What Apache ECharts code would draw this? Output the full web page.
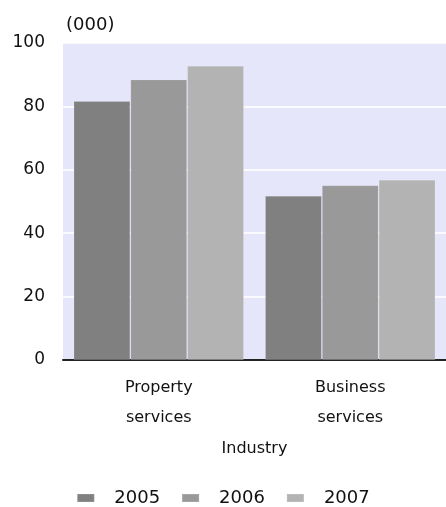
<!DOCTYPE html>
<html>
<head>
<meta charset="utf-8">
<script src="https://cdn.jsdelivr.net/npm/echarts@6/dist/echarts.min.js"></script>
<style>
  html, body { margin: 0; padding: 0; background: #ffffff; }
  #chart { width: 446px; height: 507px; }
</style>
</head>
<body>
<div id="chart"></div>
<script>
// Employment by industry, thousands
const categories = ['Property\nservices', 'Business\nservices'];
const years = ['2005', '2006', '2007'];
const values2005 = [81.7, 51.8];
const values2006 = [88.5, 55.1];
const values2007 = [92.8, 56.9];
const yTicks = [0, 20, 40, 60, 80, 100];

const seriesValues = [values2005, values2006, values2007];
const barColors = ['#808080', '#999999', '#b3b3b3'];
const font = 'DejaVu Sans, Verdana, sans-serif';

const chart = echarts.init(document.getElementById('chart'), null, { renderer: 'canvas' });

chart.setOption({
  animation: false,
  backgroundColor: '#ffffff',
  textStyle: { fontFamily: font, color: '#111' },
  title: {
    text: '(000)',
    left: 61,
    top: 11,
    textStyle: { fontFamily: font, fontSize: 18, fontWeight: 'normal', color: '#111' }
  },
  grid: {
    left: 63,
    right: 0,
    top: 43,
    bottom: 147,
    show: true,
    backgroundColor: '#e6e6fa',
    borderWidth: 0,
    containLabel: false
  },
  legend: {
    bottom: -5,
    left: 'center',
    itemWidth: 17,
    itemHeight: 8,
    itemGap: 21,
    icon: 'rect',
    data: years,
    textStyle: { fontFamily: font, fontSize: 18, color: '#111', padding: [0, 0, 0, 15] }
  },
  xAxis: {
    type: 'category',
    data: categories,
    name: 'Industry',
    nameLocation: 'middle',
    nameGap: 81,
    nameTextStyle: { fontFamily: font, fontSize: 16, color: '#111' },
    axisLine: { show: true, lineStyle: { color: '#222', width: 2 } },
    axisTick: { show: false },
    axisLabel: {
      fontFamily: font,
      fontSize: 16,
      lineHeight: 30,
      margin: 13,
      color: '#111'
    }
  },
  yAxis: {
    type: 'value',
    min: yTicks[0],
    max: yTicks[yTicks.length - 1],
    interval: 20,
    axisLine: { show: false },
    axisTick: { show: false },
    axisLabel: { fontFamily: font, fontSize: 17, color: '#111', margin: 18 },
    splitLine: { show: true, lineStyle: { color: '#ffffff', width: 1.5 } }
  },
  series: years.map((y, i) => ({
    name: y,
    type: 'bar',
    data: seriesValues[i],
    barGap: '0%',
    barCategoryGap: '11%',
    itemStyle: { color: barColors[i], borderColor: 'rgba(255,255,255,0.12)', borderWidth: 1 },
    emphasis: { disabled: true }
  }))
});
</script>
</body>
</html>
